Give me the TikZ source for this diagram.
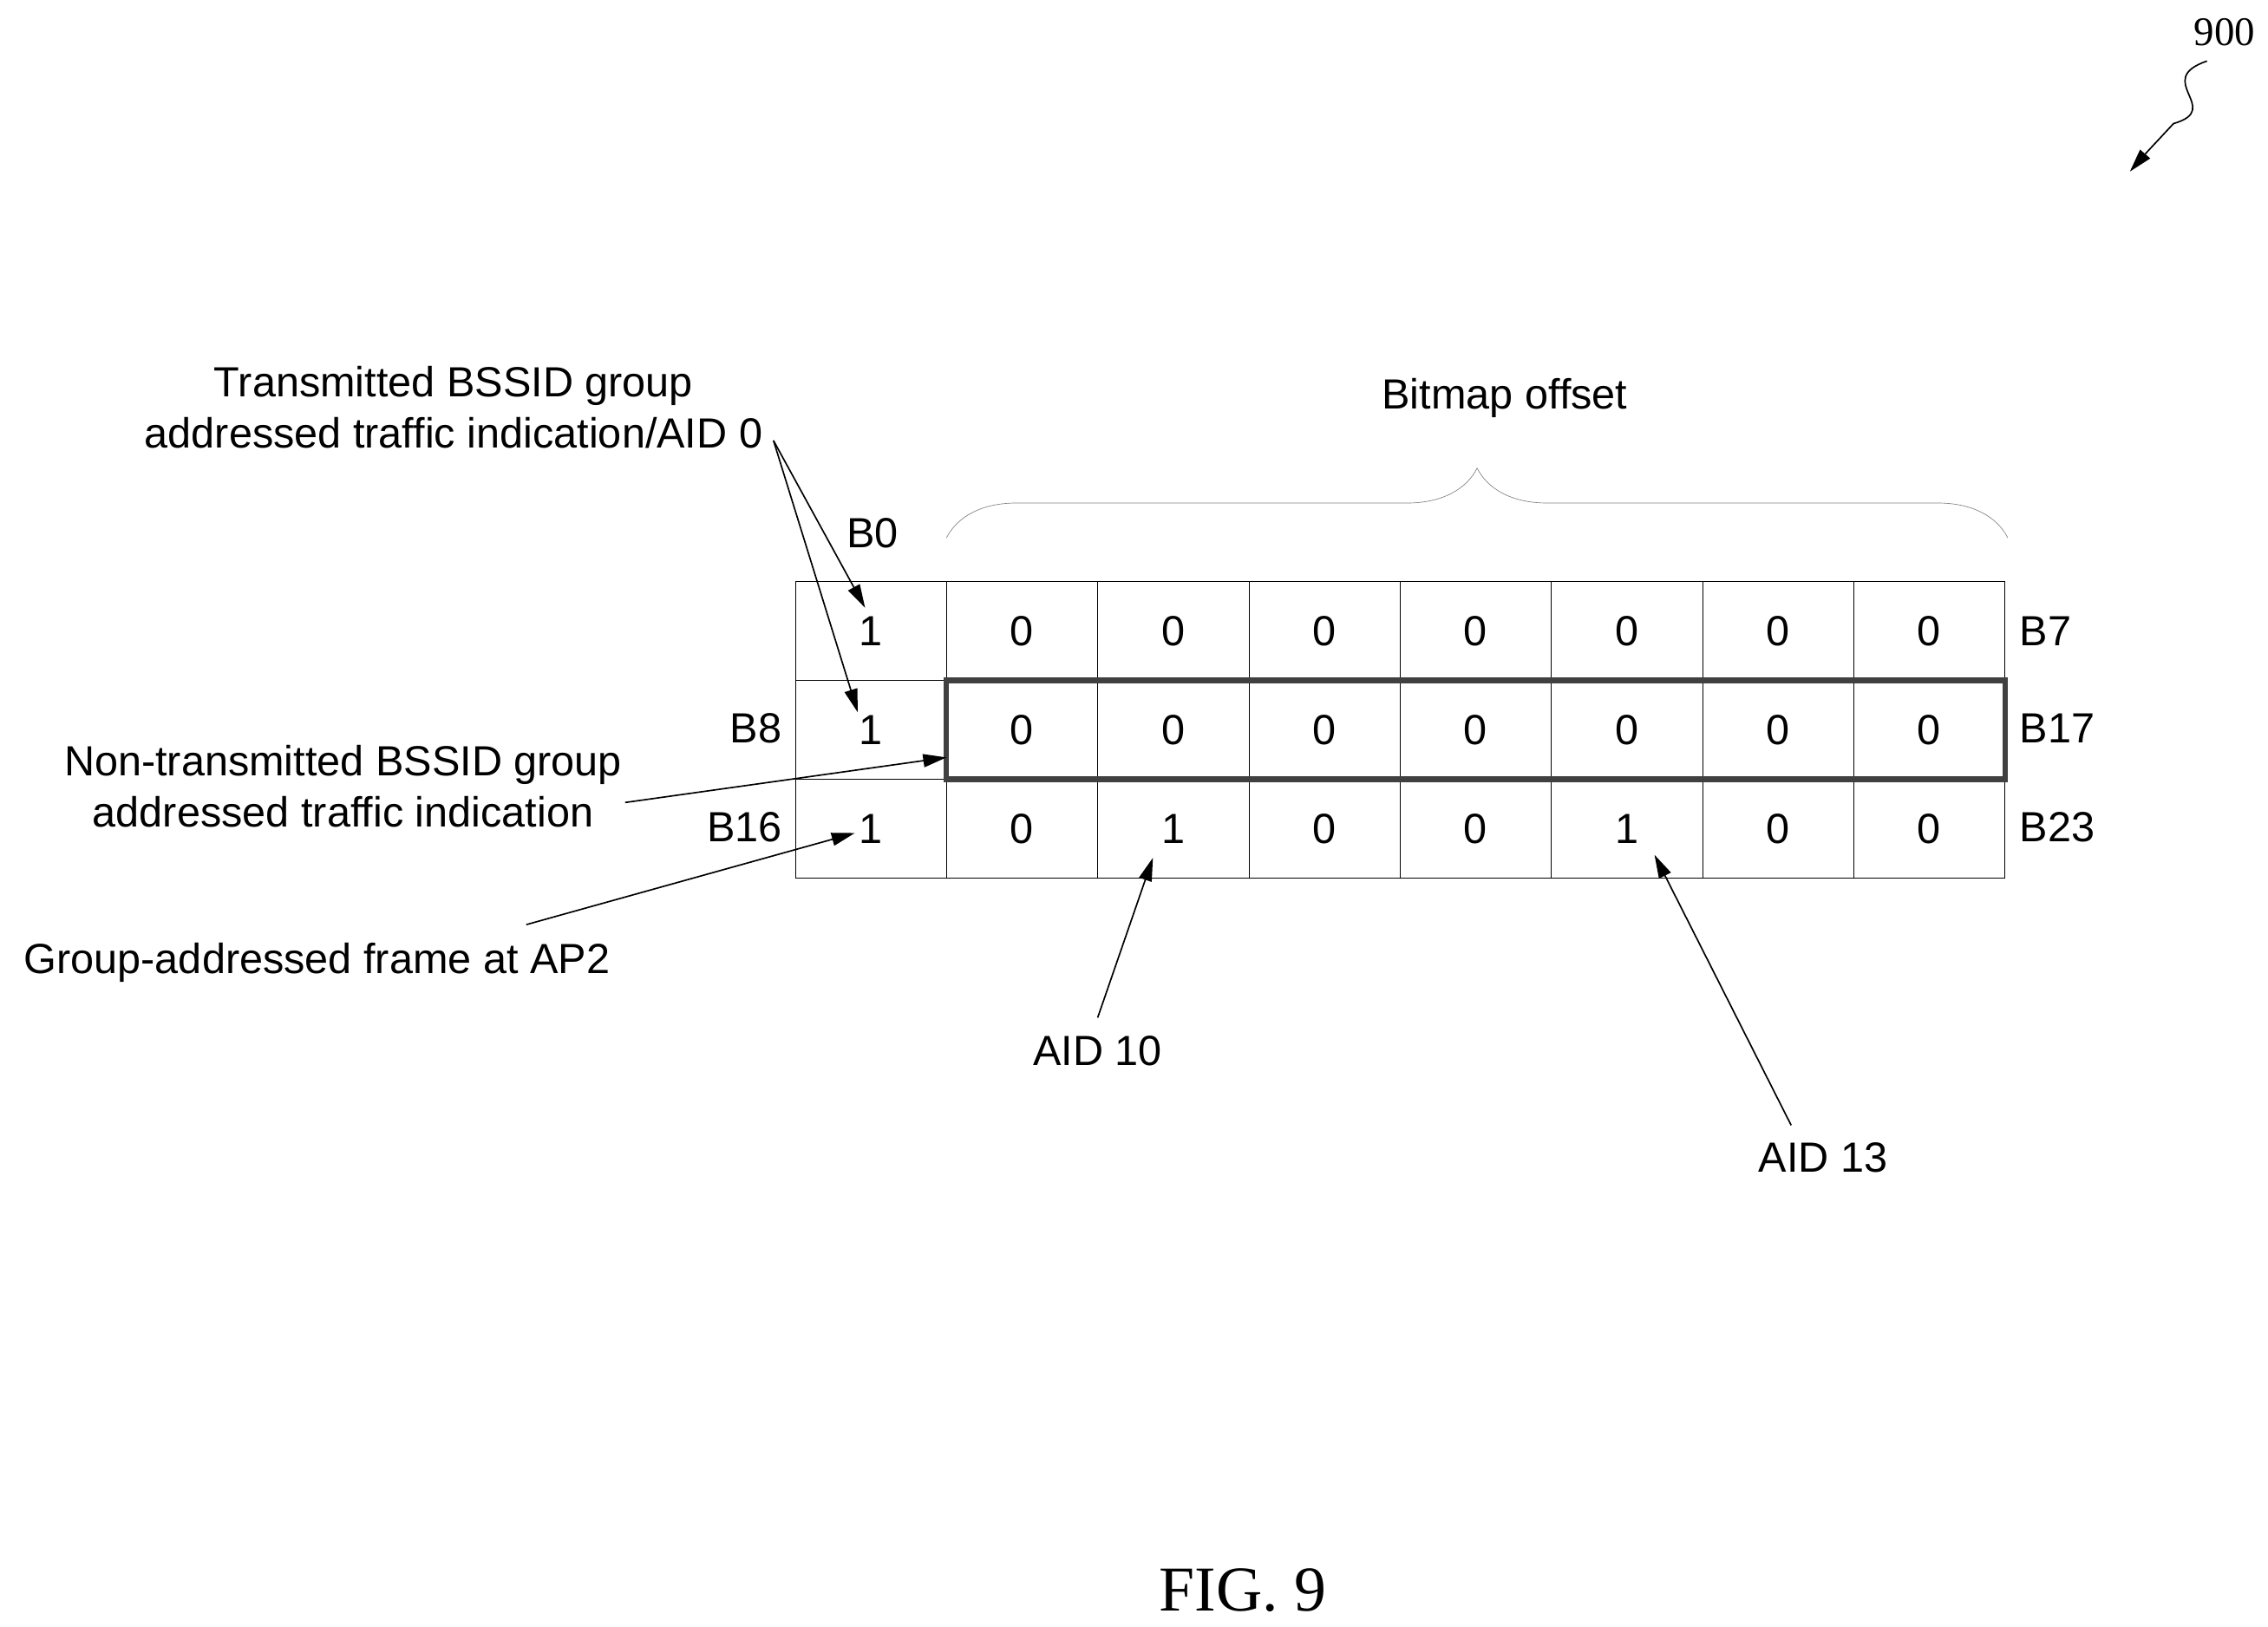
\documentclass[tikz,border=0pt]{standalone}
\usepackage{fontspec}
\setmainfont{Liberation Sans}
\newfontfamily\serif{Liberation Serif}
\usetikzlibrary{decorations.pathreplacing,arrows.meta}
\begin{document}
\begin{tikzpicture}[x=1pt,y=-1pt,
  cell/.style={draw,thin,minimum width=104pt,minimum height=68pt,inner sep=0pt,font=\fontsize{29}{34}\selectfont},
  lbl/.style={font=\fontsize{29}{35}\selectfont,align=center,inner sep=1pt},
  arr/.style={-{Triangle[length=16pt,width=9pt]},line width=1pt}]
\useasboundingbox (0,0) rectangle (1560,1119);
\foreach \r/\vals in {0/{1,0,0,0,0,0,0,0},1/{1,0,0,0,0,0,0,0},2/{1,0,1,0,0,1,0,0}}{
  \foreach \v [count=\c from 0] in \vals {
    \node[cell] (c\r\c) at ({599+104*\c},{434+68*\r}) {\v};
  }
}
\draw[line width=4pt,black!75] (c11.north west) rectangle (c17.south east);
\node[lbl] (b0) at (600,367) {B0};
\node[lbl] (b7) at (1407,434) {B7};
\node[lbl] (b8) at (520,501) {B8};
\node[lbl] (b17) at (1415,501) {B17};
\node[lbl] (b16) at (512,569) {B16};
\node[lbl] (b23) at (1415,569) {B23};
\node[lbl] (t1) at (312,280) {Transmitted BSSID group\\addressed traffic indication/AID 0};
\coordinate (t1a) at (532,303);
\draw[arr] (t1a) -- (595,418);
\draw[arr] (t1a) -- (590,490);
\node[lbl] (t2) at (236,541) {Non-transmitted BSSID group\\addressed traffic indication};
\draw[arr] (430,552) -- (651,521);
\node[lbl] (t3) at (218,662) {Group-addressed frame at AP2};
\draw[arr] (362,636) -- (588,573);
\node[lbl] (a10) at (755,723) {AID 10};
\draw[arr] (755,700) -- (793,590);
\node[lbl] (a13) at (1254,796) {AID 13};
\draw[arr] (1232,774) -- (1138,588);
\draw[gray,thin,decorate,decoration={brace,amplitude=48pt}] (651,370) -- (1381,370);
\node[lbl] (bo) at (1035,274) {Bitmap offset};
\node[font=\serif\fontsize{28}{30}\selectfont] (n900) at (1530,22) {900};
\draw[arr] (1518,42) .. controls (1480,55) and (1530,75) .. (1495,85) .. controls (1485,95) .. (1465,118);
\node[font=\serif\fontsize{44}{46}\selectfont,inner sep=0pt] (fig) at (855,1094) {FIG. 9};
\end{tikzpicture}
\end{document}
